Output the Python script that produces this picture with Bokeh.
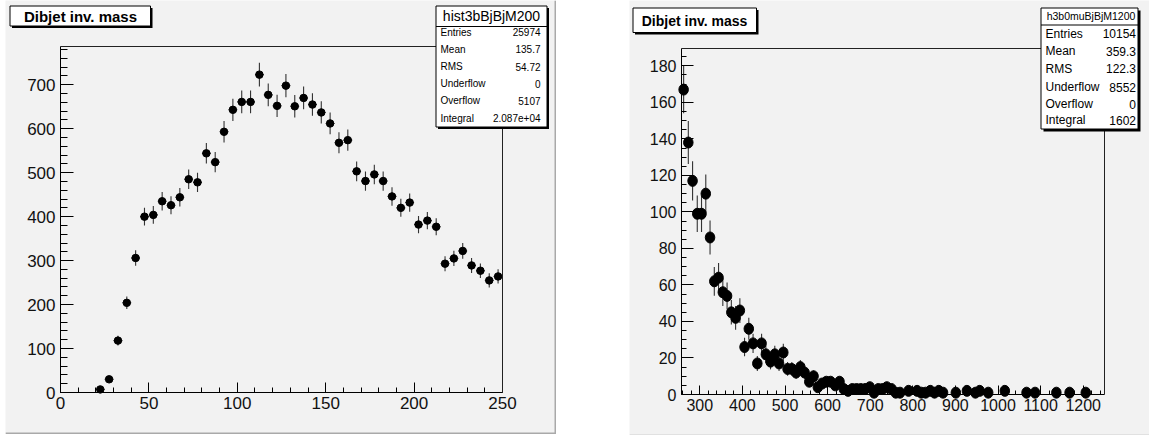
import numpy as np
from bokeh.plotting import figure
from bokeh.models import (Range1d, SingleIntervalTicker, FixedTicker, BoxAnnotation, Label,
                          Spacer, LinearAxis)
from bokeh.layouts import row
from bokeh.embed import file_html
from bokeh.resources import INLINE

# ---------------- data: left histogram ----------------
left_title = "Dibjet inv. mass"
left_hist_name = "hist3bBjBjM200"
left_x = [22.5, 27.5, 32.5, 37.5, 42.5, 47.5, 52.5, 57.5, 62.5, 67.5,
          72.5, 77.5, 82.5, 87.5, 92.5, 97.5, 102.5, 107.5, 112.5, 117.5,
          122.5, 127.5, 132.5, 137.5, 142.5, 147.5, 152.5, 157.5, 162.5, 167.5,
          172.5, 177.5, 182.5, 187.5, 192.5, 197.5, 202.5, 207.5, 212.5, 217.5,
          222.5, 227.5, 232.5, 237.5, 242.5, 247.5]
left_counts = [7, 30, 118, 204, 306, 400, 404, 435, 426, 444,
               485, 478, 544, 524, 593, 643, 661, 661, 723, 677,
               652, 698, 651, 670, 655, 637, 612, 568, 574, 503,
               481, 496, 481, 446, 420, 432, 382, 391, 377, 293,
               305, 322, 289, 277, 255, 264]
left_half_bin = 2.5
left_stat_labels = ["Entries", "Mean", "RMS", "Underflow", "Overflow", "Integral"]
left_stat_values = ["25974", "135.7", "54.72", "0", "5107", "2.087e+04"]
left_xlim = (0, 250)
left_ylim = (0, 787)

# ---------------- data: right histogram ----------------
right_title = "Dibjet inv. mass"
right_hist_name = "h3b0muBjBjM1200"
right_x = [262, 273, 283, 294, 304, 314, 324, 334, 344, 354,
           364, 374, 384, 394, 405, 415, 425, 435, 445, 455,
           466, 476, 486, 496, 506, 516, 526, 536, 546, 557,
           567, 577, 587, 597, 607, 618, 628, 638, 648, 658,
           668, 678, 688, 699, 709, 719, 729, 739, 750, 760,
           770, 790, 810, 820, 830, 841, 851, 861, 871, 901,
           927, 947, 957, 977, 1016, 1067, 1087, 1137, 1168, 1206]
right_counts = [167, 138, 117, 99, 99, 110, 86, 62, 64, 56,
                54, 45, 42, 46, 26, 36, 28, 17, 28, 22,
                18, 22, 17, 23, 14, 14, 12, 15, 12, 7,
                10, 4, 6, 7, 7, 5, 7, 3, 2, 3,
                3, 3, 3, 4, 1, 3, 3, 4, 3, 1,
                1, 2, 2, 1, 1, 2, 1, 2, 1, 1,
                2, 1, 2, 1, 2, 1, 1, 1, 1, 1]
right_half_bin = 5
right_stat_labels = ["Entries", "Mean", "RMS", "Underflow", "Overflow", "Integral"]
right_stat_values = ["10154", "359.3", "122.3", "8552", "0", "1602"]
right_xlim = (257, 1250)
right_ylim = (0, 189.5)

CANVAS = "#f2f2f2"
FONT = "Liberation Sans"


class Panel:
    def __init__(self, canvas, plot_box, xlim, ylim):
        # canvas / plot_box given as page pixels (x0, y0, x1, y1), y downward
        self.cx0, self.cy0, self.cx1, self.cy1 = canvas
        px0, py0, px1, py1 = plot_box
        sx = (px1 - px0) / (xlim[1] - xlim[0])
        sy = (py1 - py0) / (ylim[1] - ylim[0])
        self.xr = Range1d(xlim[0] - (px0 - self.cx0) / sx, xlim[1] + (self.cx1 - px1) / sx)
        self.yr = Range1d(ylim[0] - (self.cy1 - py1) / sy, ylim[1] + (py0 - self.cy0) / sy)
        self.p = figure(width=int(self.cx1 - self.cx0), height=int(self.cy1 - self.cy0),
                        output_backend="svg", toolbar_location=None,
                        x_range=self.xr, y_range=self.yr, min_border=0)
        p = self.p
        p.background_fill_color = CANVAS
        p.border_fill_color = CANVAS
        p.outline_line_color = None
        p.xgrid.visible = False
        p.ygrid.visible = False

    def box(self, x0, y0, x1, y1, fill, line=None):
        self.p.add_layout(BoxAnnotation(
            left=x0 - self.cx0, right=x1 - self.cx0,
            top=self.cy1 - y0, bottom=self.cy1 - y1,
            left_units="screen", right_units="screen", top_units="screen", bottom_units="screen",
            fill_color=fill, fill_alpha=1.0, line_color=line, line_width=1, line_alpha=1.0,
            level="overlay"))

    def text(self, x, y, s, size, align, bold=False):
        self.p.add_layout(Label(
            x=x - self.cx0, y=self.cy1 - y, x_units="screen", y_units="screen", text=s,
            text_font=FONT, text_font_size=f"{size}px",
            text_font_style="bold" if bold else "normal",
            text_align=align, text_baseline="middle", text_color="black", level="overlay"))


def build(panel, xs, counts, half_bin, xlim, ylim, lab_size, x_tick, x_minor, y_tick, y_minor,
          ticks_len, marker_w, marker_h):
    p = panel.p
    xs = np.array(xs, dtype=float)
    ys = np.array(counts, dtype=float)
    err = np.sqrt(ys)
    p.segment(x0=xs, y0=ys - err, x1=xs, y1=ys + err, line_color="#333333", line_width=1.1)
    p.segment(x0=xs - half_bin, y0=ys, x1=xs + half_bin, y1=ys, line_color="#333333", line_width=1.1)
    p.ellipse(x=xs, y=ys, width=marker_w, height=marker_h, width_units="screen",
              height_units="screen", fill_color="black", line_color="black")
    xa, ya = p.xaxis[0], p.yaxis[0]
    xa.fixed_location = ylim[0]
    ya.fixed_location = xlim[0]
    xa.bounds = xlim
    ya.bounds = ylim
    xa.ticker = SingleIntervalTicker(interval=x_tick, num_minor_ticks=x_minor)
    ya.ticker = SingleIntervalTicker(interval=y_tick, num_minor_ticks=y_minor)
    (xmaj, xmin_, ymaj, ymin_) = ticks_len
    for ax, maj, mi in ((xa, xmaj, xmin_), (ya, ymaj, ymin_)):
        ax.major_tick_in = maj
        ax.major_tick_out = 0
        ax.minor_tick_in = mi
        ax.minor_tick_out = 0
        ax.axis_line_color = "black"
        ax.major_tick_line_color = "black"
        ax.minor_tick_line_color = "black"
        ax.major_label_text_font = FONT
        ax.major_label_text_font_size = f"{lab_size}px"
        ax.major_label_text_color = "#111111"
    xa.major_label_standoff = 4
    ya.major_label_standoff = 5
    # frame top and right edges
    top = LinearAxis(fixed_location=ylim[1], bounds=xlim, ticker=FixedTicker(ticks=[]),
                     major_label_text_alpha=0, axis_line_color="#222222")
    right = LinearAxis(fixed_location=xlim[1], bounds=ylim, ticker=FixedTicker(ticks=[]),
                       major_label_text_alpha=0, axis_line_color="#222222")
    p.add_layout(top, "above")
    p.add_layout(right, "right")


# ---------------- left panel ----------------
L = Panel((5, 0, 556, 434), (60, 46, 502, 392), left_xlim, left_ylim)
build(L, left_x, left_counts, left_half_bin, left_xlim, left_ylim, 17,
      50, 5, 100, 5, (10, 5, 13, 7), 7.5, 7.5)
L.box(554, 0, 556, 434, "#a9a9a9")
L.box(5, 432, 556, 434, "#a9a9a9")
L.box(11.5, 7.5, 152, 27.5, "black")
L.box(9.5, 5.5, 150, 25.5, "white", "black")
L.text(80, 15.5, left_title, 15, "center", True)
L.box(437.5, 7.5, 548.5, 128.5, "black")
L.box(435.5, 5.5, 546.5, 126.5, "white", "black")
L.box(435.5, 25.5, 546.5, 26.5, "black")
L.text(491, 15, left_hist_name, 14, "center")
row_y1 = [31.7, 48.8, 66.0, 83.2, 100.4, 117.5]
for lab, val, yy in zip(left_stat_labels, left_stat_values, row_y1):
    L.text(440, yy, lab, 10, "left")
    L.text(540, yy, val, 10, "right")

# ---------------- right panel ----------------
R = Panel((629, 0, 1149, 435), (681, 48, 1104, 394), right_xlim, right_ylim)
build(R, right_x, right_counts, right_half_bin, right_xlim, right_ylim, 16,
      100, 5, 20, 4, (9, 4, 12, 5), 9.5, 11)
R.box(629, 434, 1149, 435, "#d0d0d0")
R.box(634.5, 9.5, 758, 34, "black")
R.box(632.5, 7.5, 756, 32, "white", "black")
R.text(694, 20, right_title, 14, "center", True)
R.box(1043, 10, 1140, 131, "black")
R.box(1040.5, 7.5, 1137.5, 128.5, "white", "black")
R.box(1040.5, 24, 1137.5, 25, "black")
R.text(1090.5, 15.5, right_hist_name, 10.5, "center")
row_y2 = [33.3, 50.8, 68.3, 86.5, 103.8, 119.5]
for lab, val, yy in zip(right_stat_labels, right_stat_values, row_y2):
    R.text(1045, yy, lab, 12, "left")
    R.text(1135.5, yy, val, 12, "right")

layout = row(Spacer(width=5, height=434), L.p, Spacer(width=73, height=434), R.p)
open("out.html", "w").write(file_html(layout, INLINE))
